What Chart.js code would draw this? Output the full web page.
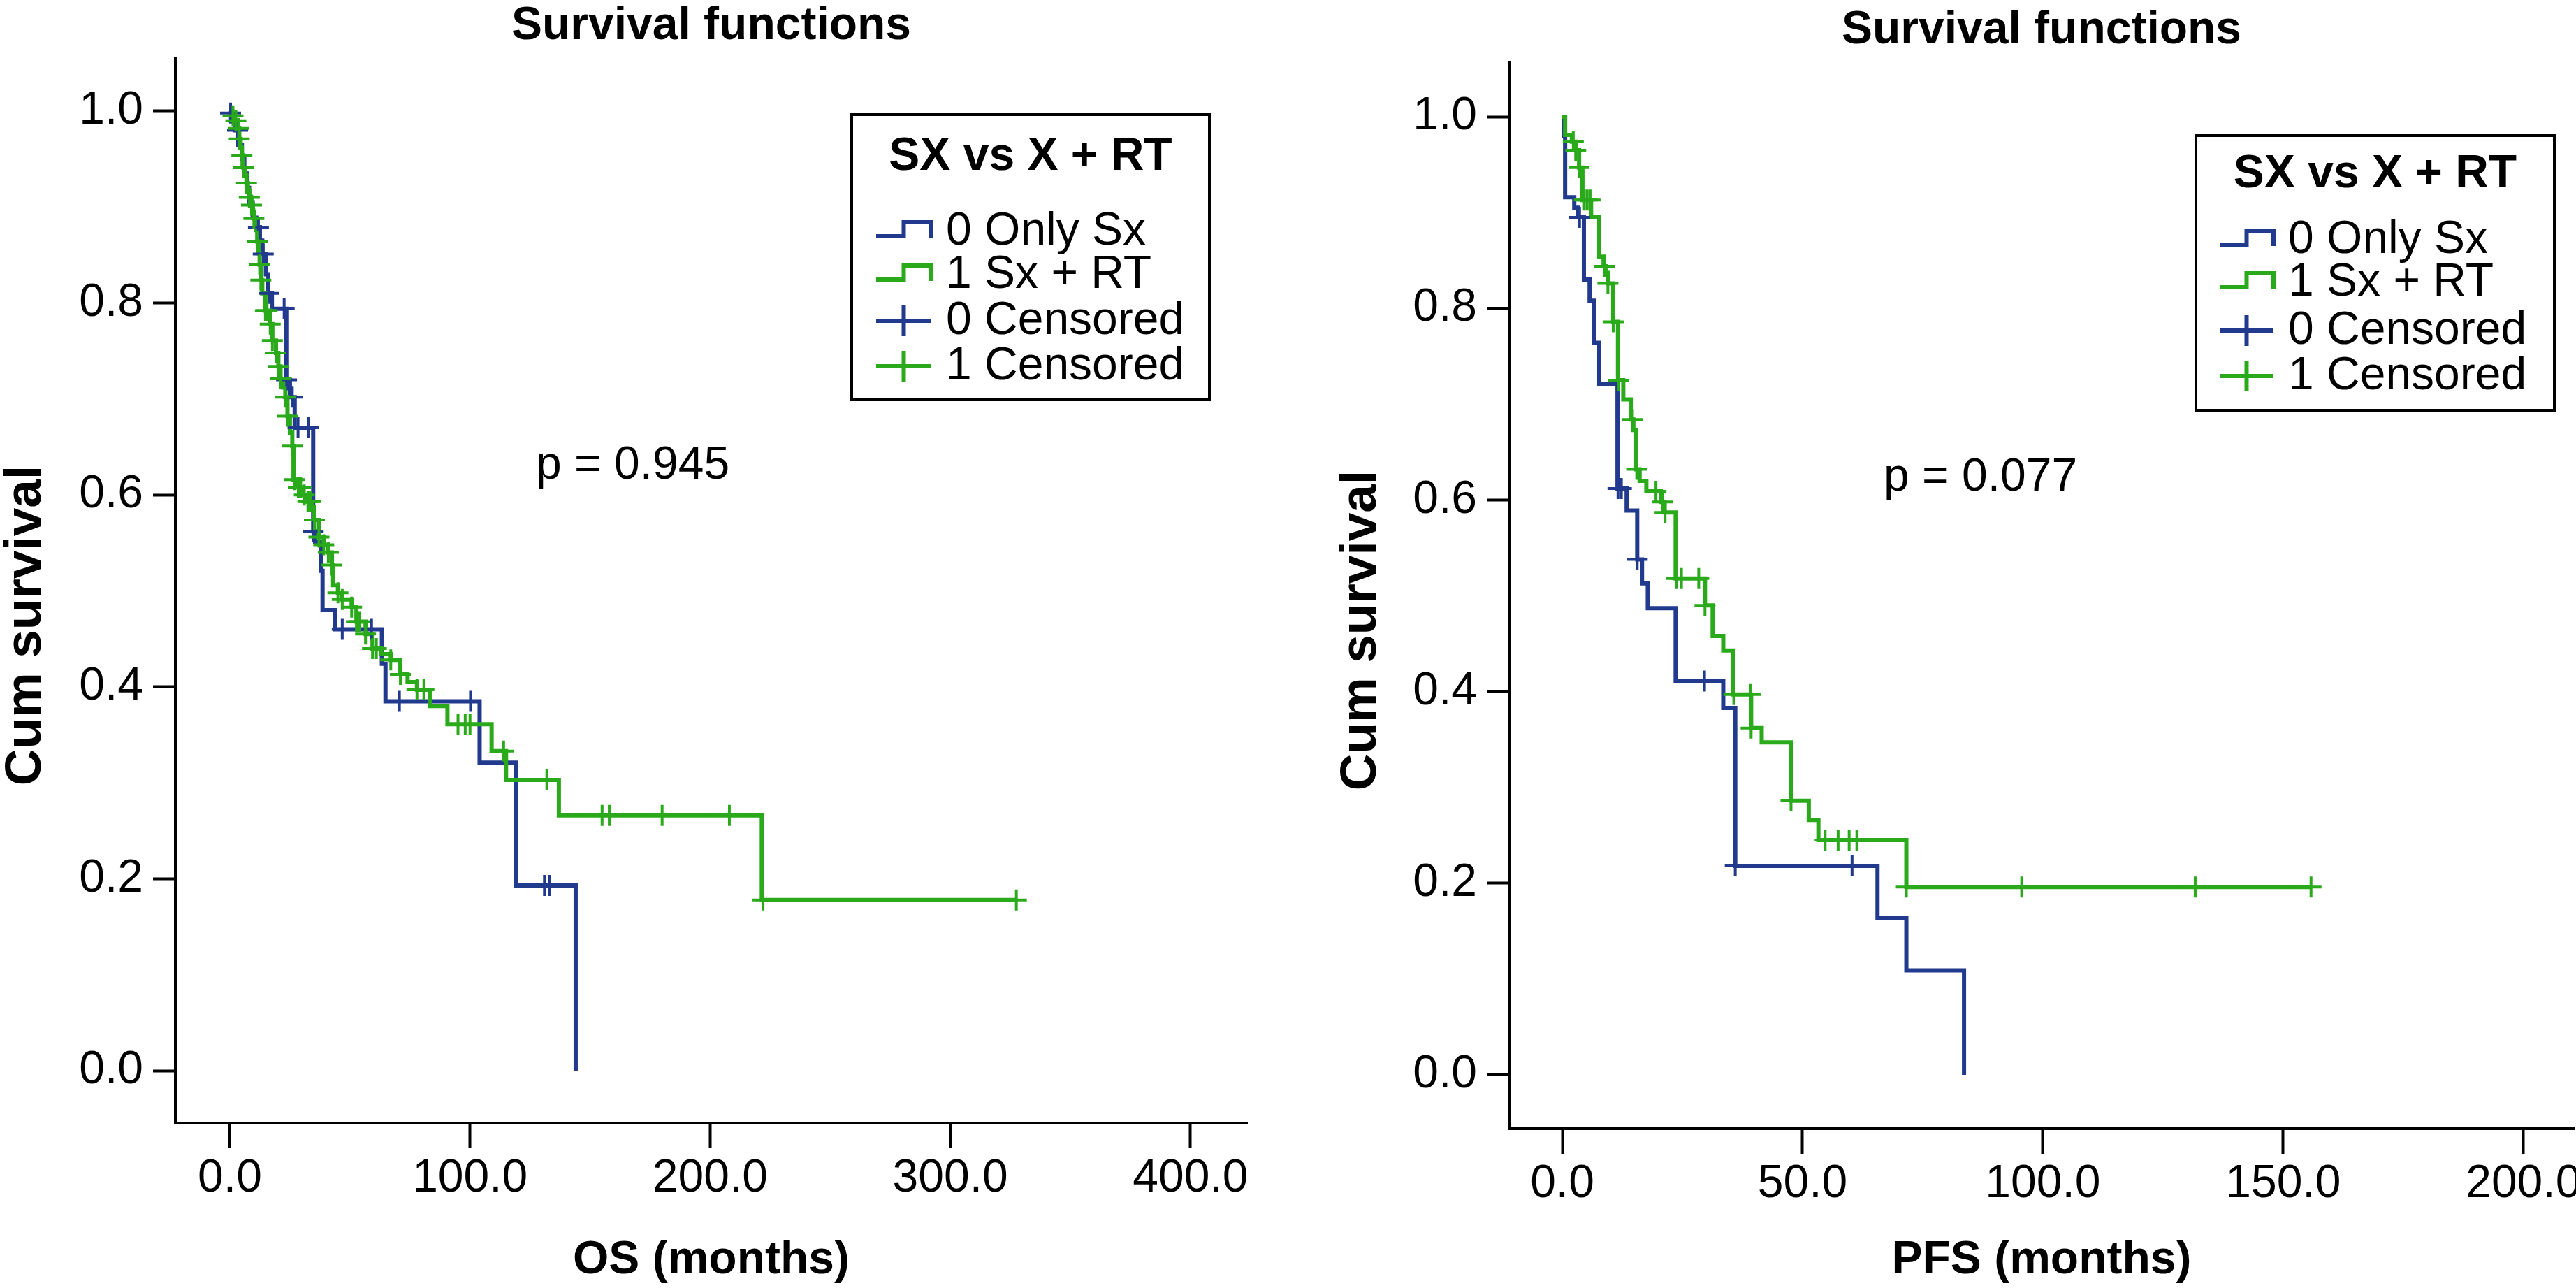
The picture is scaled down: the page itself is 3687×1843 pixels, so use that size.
<!DOCTYPE html>
<html><head><meta charset="utf-8">
<script src="https://cdn.jsdelivr.net/npm/chart.js@4.4.0/dist/chart.umd.min.js"></script>
<style>
html,body{margin:0;padding:0;background:#fff;width:3687px;height:1843px;overflow:hidden;position:relative;}
#c1{position:absolute;left:0;top:0;}
#c2{position:absolute;left:1843px;top:0;}
</style></head><body>
<canvas id="c1" width="1843" height="1843"></canvas>
<canvas id="c2" width="1900" height="1843"></canvas>
<script>
// ---------- DATA ----------
const legendTitle = 'SX vs X + RT';
const legendLabels = ['0 Only Sx', '1 Sx + RT', '0 Censored', '1 Censored'];
const yTicks = [0, 0.2, 0.4, 0.6, 0.8, 1.0];
const osXTicks = [0, 100, 200, 300, 400];
const pfsXTicks = [0, 50, 100, 150, 200];

// OS – group 0 (Only Sx): step times / survival
const osTimeOnlySx = [0, 0.5, 2, 3.5, 5, 6, 7, 8, 9.5, 11, 12.5, 13.5, 15, 16, 17.5, 23.5, 25, 27, 34.7, 35.5, 38.1, 38.6, 43.9, 63.3, 64.8, 104, 119, 144];
const osSurvOnlySx = [1, 0.99, 0.98, 0.965, 0.95, 0.935, 0.92, 0.905, 0.889, 0.879, 0.865, 0.851, 0.83, 0.81, 0.794, 0.72, 0.702, 0.67, 0.562, 0.551, 0.521, 0.48, 0.46, 0.424, 0.385, 0.321, 0.193, 0];
const osCensTimeOnlySx = [0.3, 3.2, 11.9, 13.9, 16.3, 22.6, 23.6, 26, 28.4, 32.8, 34.7, 46.8, 59, 70.6, 100.2, 131, 133];
const osCensSurvOnlySx = [0.998, 0.98, 0.879, 0.851, 0.81, 0.794, 0.72, 0.702, 0.67, 0.67, 0.562, 0.46, 0.46, 0.385, 0.385, 0.193, 0.193];

// OS – group 1 (Sx + RT)
const osTimeSxRT = [0, 1, 2, 3, 3.9, 4.5, 5, 5.6, 6.3, 6.9, 7.5, 8.1, 9, 9.5, 10, 10.8, 11.4, 11.9, 12.4, 12.9, 13.5, 14.8, 16.8, 17.7, 19.2, 20.2, 21.1, 22.1, 23.1, 24, 25, 26, 26.5, 28, 30, 32, 34, 35.2, 37.1, 39.1, 41, 42.5, 43, 45, 46.8, 50.7, 52.7, 56.5, 59.4, 63, 67, 71, 74, 77.9, 83.2, 90.6, 109, 115, 137, 221.5, 327.5];
const osSurvSxRT = [1, 0.995, 0.99, 0.982, 0.971, 0.962, 0.954, 0.941, 0.933, 0.925, 0.917, 0.91, 0.902, 0.895, 0.888, 0.876, 0.864, 0.852, 0.84, 0.824, 0.81, 0.792, 0.778, 0.761, 0.748, 0.734, 0.721, 0.712, 0.702, 0.682, 0.665, 0.651, 0.616, 0.608, 0.6, 0.593, 0.587, 0.574, 0.556, 0.548, 0.54, 0.527, 0.506, 0.498, 0.491, 0.483, 0.468, 0.455, 0.44, 0.434, 0.428, 0.413, 0.405, 0.397, 0.38, 0.361, 0.333, 0.303, 0.266, 0.178, 0.178];
const osCensTimeSxRT = [1.3, 2.5, 3.7, 3.9, 5.0, 5.6, 6.9, 8.1, 9.0, 10.0, 11.4, 12.4, 12.9, 14.8, 15.5, 16.8, 17.7, 19.2, 20.2, 21.1, 23.1, 24, 26, 27, 28.5, 29.5, 31, 32.5, 33.5, 35.2, 37.1, 39.1, 41, 42.5, 45, 46.8, 50.7, 52.7, 54, 56.5, 59.4, 61, 67, 71, 77.9, 80.8, 95, 98, 100, 114, 132, 155, 158, 180, 208, 222, 327.5];
const osCensSurvSxRT = [0.995, 0.99, 0.982, 0.971, 0.954, 0.941, 0.925, 0.91, 0.902, 0.888, 0.864, 0.84, 0.824, 0.792, 0.792, 0.778, 0.761, 0.748, 0.734, 0.721, 0.702, 0.682, 0.651, 0.616, 0.608, 0.608, 0.6, 0.593, 0.593, 0.574, 0.556, 0.548, 0.54, 0.527, 0.498, 0.491, 0.483, 0.468, 0.468, 0.455, 0.44, 0.44, 0.428, 0.413, 0.397, 0.397, 0.361, 0.361, 0.361, 0.333, 0.303, 0.266, 0.266, 0.266, 0.266, 0.178, 0.178];

// PFS – group 0 (Only Sx)
const pfsTimeOnlySx = [0, 0.3, 0.6, 2.5, 3.2, 4.5, 5.7, 6.6, 7.7, 11.5, 13.4, 15.6, 16.6, 17.8, 23.6, 33.5, 36, 65.6, 71.6, 83.6];
const pfsSurvOnlySx = [1, 0.98, 0.916, 0.905, 0.895, 0.83, 0.808, 0.764, 0.721, 0.612, 0.589, 0.538, 0.513, 0.487, 0.411, 0.383, 0.218, 0.164, 0.109, 0];
const pfsCensTimeOnlySx = [3.6, 11.6, 12.3, 15.6, 29.6, 36, 60.3];
const pfsCensSurvOnlySx = [0.895, 0.612, 0.612, 0.538, 0.411, 0.218, 0.218];

// PFS – group 1 (Sx + RT)
const pfsTimeSxRT = [0, 0.6, 2, 2.8, 3.5, 4.2, 6, 7.7, 8.6, 9, 9.5, 10.6, 11.6, 12.7, 14.4, 14.8, 15.4, 16.1, 17.5, 20.5, 21.3, 23.6, 29.7, 31.3, 33.5, 35.5, 39.3, 41.5, 47.6, 51.3, 53.3, 71.6, 155.8];
const pfsSurvSxRT = [1, 0.981, 0.974, 0.965, 0.947, 0.913, 0.895, 0.854, 0.844, 0.837, 0.826, 0.786, 0.725, 0.705, 0.684, 0.673, 0.632, 0.62, 0.609, 0.598, 0.587, 0.518, 0.49, 0.458, 0.443, 0.397, 0.362, 0.347, 0.286, 0.266, 0.245, 0.196, 0.196];
const pfsCensTimeSxRT = [2.3, 2.8, 3.5, 4.6, 5.2, 5.8, 8.8, 9.5, 10.6, 11.7, 14.6, 15.5, 19.5, 20.9, 21.4, 23.8, 24.8, 28.4, 29.7, 35.7, 39.1, 39.3, 47.6, 54.7, 57.4, 59.7, 61.3, 71.6, 95.6, 131.7, 155.8];
const pfsCensSurvSxRT = [0.974, 0.965, 0.947, 0.913, 0.913, 0.913, 0.844, 0.826, 0.786, 0.725, 0.684, 0.632, 0.609, 0.598, 0.587, 0.518, 0.518, 0.518, 0.49, 0.397, 0.397, 0.362, 0.286, 0.245, 0.245, 0.245, 0.245, 0.196, 0.196, 0.196, 0.196];

// ---------- STYLE ----------
const FONT = '"Liberation Sans", Arial, Helvetica, sans-serif';
const BLUE = '#223a8e';
const GREEN = '#2aaa1b';
Chart.defaults.font.family = FONT;
Chart.defaults.color = '#000';

const pts = (xs, ys) => xs.map((x, i) => ({x: x, y: ys[i]}));

const decorPlugin = {
  id: 'decor',
  afterDraw(chart, args, o) {
    const {ctx, chartArea} = chart;
    ctx.save();
    ctx.fillStyle = '#000';
    ctx.textBaseline = 'alphabetic';
    // chart title
    ctx.font = 'bold 66px ' + FONT;
    ctx.textAlign = 'center';
    ctx.fillText(o.title, (chartArea.left + chartArea.right) / 2, o.titleY);
    // y axis title (rotated)
    ctx.save();
    ctx.translate(o.yTitleX, o.yTitleY);
    ctx.rotate(-Math.PI / 2);
    ctx.font = 'bold 73px ' + FONT;
    ctx.textAlign = 'center';
    ctx.fillText(o.yTitle, 0, 0);
    ctx.restore();
    // p value
    ctx.font = '66px ' + FONT;
    ctx.textAlign = 'left';
    ctx.fillText(o.pText, o.pX, o.pY);
    // legend
    const b = o.box;
    ctx.lineWidth = 4;
    ctx.strokeStyle = '#000';
    ctx.strokeRect(b.x, b.y, b.w, b.h);
    ctx.font = 'bold 66px ' + FONT;
    ctx.textAlign = 'center';
    ctx.fillText(legendTitle, b.x + b.w / 2, o.legTitleY);
    const kinds = ['step', 'step', 'cross', 'cross'];
    const cols = [BLUE, GREEN, BLUE, GREEN];
    ctx.font = '66px ' + FONT;
    ctx.textAlign = 'left';
    legendLabels.forEach((lab, i) => {
      const yb = o.itemY[i];
      const x0 = o.symX0, x1 = o.symX1, xm = (x0 + x1) / 2;
      ctx.strokeStyle = cols[i];
      ctx.lineWidth = 6;
      ctx.beginPath();
      if (kinds[i] === 'step') {
        ctx.moveTo(x0, yb - 12); ctx.lineTo(xm, yb - 12); ctx.lineTo(xm, yb - 32);
        ctx.lineTo(x1, yb - 32); ctx.lineTo(x1, yb - 10);
      } else {
        ctx.moveTo(x0, yb - 19); ctx.lineTo(x1, yb - 19);
        ctx.moveTo(xm, yb - 41); ctx.lineTo(xm, yb + 3);
      }
      ctx.stroke();
      ctx.fillStyle = '#000';
      ctx.fillText(lab, o.textX, yb);
    });
    ctx.restore();
  }
};

function makeChart(id, c) {
  const lineDs = (xs, ys, col) => ({
    data: pts(xs, ys), stepped: true, borderColor: col, borderWidth: 6,
    pointRadius: 0, fill: false, tension: 0
  });
  const censDs = (xs, ys, col) => ({
    data: pts(xs, ys), showLine: false, pointStyle: 'cross', pointRadius: 15,
    pointBorderWidth: 4, pointBorderColor: col, borderColor: col, pointBackgroundColor: col
  });
  return new Chart(document.getElementById(id), {
    type: 'line',
    data: {
      datasets: [
        censDs(c.cT1, c.cS1, GREEN),
        censDs(c.cT0, c.cS0, BLUE),
        lineDs(c.t1, c.s1, GREEN),
        lineDs(c.t0, c.s0, BLUE)
      ]
    },
    plugins: [decorPlugin],
    options: {
      responsive: false, animation: false, devicePixelRatio: 1, events: [],
      layout: {padding: {top: c.top, right: c.padRight, left: 0, bottom: 0}},
      plugins: {legend: {display: false}, tooltip: {enabled: false}, title: {display: false}, decor: c.decor},
      scales: {
        x: {
          type: 'linear', min: c.xMin, max: c.xMax,
          afterBuildTicks: s => { s.ticks = c.xTicks.map(v => ({value: v})); },
          afterFit: s => { s.height = c.xH; },
          ticks: {callback: v => Number(v).toFixed(1), font: {size: 66}, color: '#000', padding: 4, maxRotation: 0, autoSkip: false},
          grid: {drawOnChartArea: false, drawTicks: true, tickLength: 36, tickWidth: 4, tickColor: '#000'},
          border: {display: true, color: '#000', width: 4},
          title: {display: true, text: c.xTitle, color: '#000', font: {size: 66, weight: 'bold', lineHeight: 1.2}, padding: {top: 0, bottom: c.xTitlePad}}
        },
        y: {
          type: 'linear', min: c.yMin, max: c.yMax,
          afterBuildTicks: s => { s.ticks = yTicks.map(v => ({value: v})); },
          afterFit: s => { s.width = c.yW; },
          ticks: {callback: v => Number(v).toFixed(1), font: {size: 66}, color: '#000', padding: 14},
          grid: {drawOnChartArea: false, drawTicks: true, tickLength: 32, tickWidth: 4, tickColor: '#000'},
          border: {display: true, color: '#000', width: 4},
          title: {display: false}
        }
      }
    }
  });
}

makeChart('c1', {
  t0: osTimeOnlySx, s0: osSurvOnlySx, cT0: osCensTimeOnlySx, cS0: osCensSurvOnlySx,
  t1: osTimeSxRT, s1: osSurvSxRT, cT1: osCensTimeSxRT, cS1: osCensSurvSxRT,
  xTicks: osXTicks, xMin: -22.69, xMax: 423.6, yMin: -0.0546, yMax: 1.0546,
  top: 84, padRight: 58, xH: 236, yW: 251, xTitle: 'OS (months)', xTitlePad: 0,
  decor: {title: 'Survival functions', titleY: 56, yTitle: 'Cum survival', yTitleX: 58, yTitleY: 895,
    pText: 'p = 0.945', pX: 767, pY: 685,
    box: {x: 1219, y: 164, w: 512, h: 408}, legTitleY: 243, itemY: [350, 412, 478, 543],
    symX0: 1254, symX1: 1333, textX: 1354}
});

makeChart('c2', {
  t0: pfsTimeOnlySx, s0: pfsSurvOnlySx, cT0: pfsCensTimeOnlySx, cS0: pfsCensSurvOnlySx,
  t1: pfsTimeSxRT, s1: pfsSurvSxRT, cT1: pfsCensTimeSxRT, cS1: pfsCensSurvSxRT,
  xTicks: pfsXTicks, xMin: -11.05, xMax: 210.5, yMin: -0.0562, yMax: 1.0562,
  top: 90, padRight: 59, xH: 228, yW: 317, xTitle: 'PFS (months)', xTitlePad: 0,
  decor: {title: 'Survival functions', titleY: 62, yTitle: 'Cum survival', yTitleX: 126, yTitleY: 902,
    pText: 'p = 0.077', pX: 853, pY: 702,
    box: {x: 1300, y: 194, w: 513, h: 393}, legTitleY: 268, itemY: [362, 423, 492, 557],
    symX0: 1334, symX1: 1411, textX: 1432}
});
</script>
</body></html>
